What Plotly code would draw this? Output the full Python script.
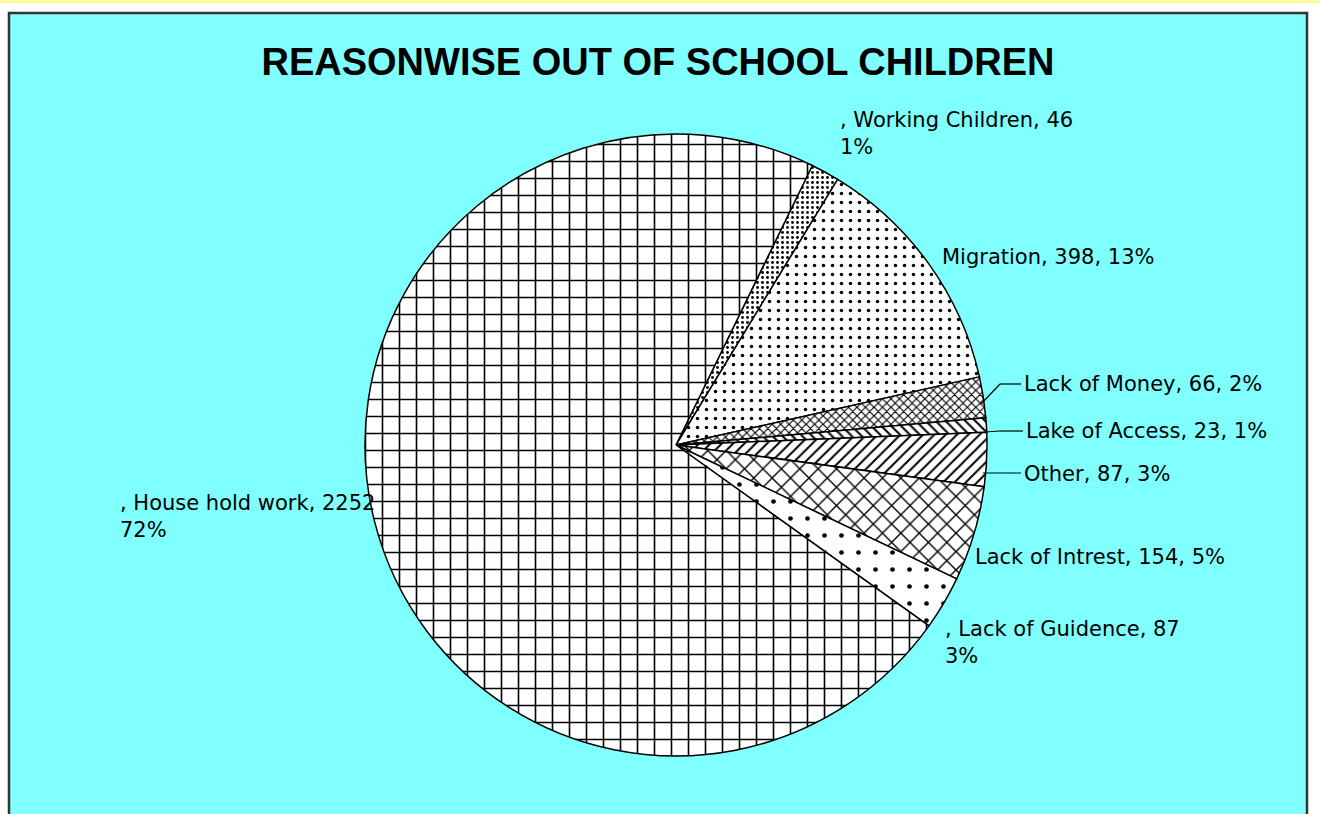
import plotly.graph_objects as go

# ---- data ----
categories = ["Working Children", "Migration", "Lack of Money", "Lake of Access",
              "Other", "Lack of Intrest", "Lack of Guidence", "House hold work"]
values = [46, 398, 66, 23, 87, 154, 87, 2252]
percent_labels = ["1%", "13%", "2%", "1%", "3%", "5%", "3%", "72%"]

# pattern styling per slice
pattern_shapes = [".", ".", "x", "\\", "/", "x", ".", "+"]
pattern_sizes = [5, 9, 6, 7, 8, 13, 17, 17]
pattern_solid = [0.25, 0.12, 0.35, 0.28, 0.25, 0.2, 0.06, 0.18]

W, H = 1320, 814
CYAN = "#80FFFF"
FONT = "DejaVu Sans"


def px(x, y):
    return x / W, 1 - y / H


# pie geometry (pixels)
cx, cy, r = 676, 445, 311

fig = go.Figure()
fig.add_trace(go.Pie(
    labels=categories,
    values=values,
    sort=False,
    direction="clockwise",
    rotation=26,
    textinfo="none",
    hoverinfo="label+value+percent",
    showlegend=False,
    domain=dict(x=[(cx - r) / W, (cx + r) / W], y=[1 - (cy + r) / H, 1 - (cy - r) / H]),
    marker=dict(
        colors=["white"] * len(values),
        line=dict(color="black", width=1.5),
        pattern=dict(shape=pattern_shapes, size=pattern_sizes, solidity=pattern_solid,
                     fgcolor="black", bgcolor="white", fgopacity=1, fillmode="overlay"),
    ),
))

# label texts built from data
def lab(i, style):
    name, v, p = categories[i], values[i], percent_labels[i]
    if style == "split":
        return f", {name}, {v}<br>{p}"
    return f"{name}, {v}, {p}"

label_specs = [
    # index, style, x, y(px), yanchor
    (0, "split", 838, 106, "top"),
    (1, "one", 940, 257, "middle"),
    (2, "one", 1022, 384, "middle"),
    (3, "one", 1024, 431, "middle"),
    (4, "one", 1022, 474, "middle"),
    (5, "one", 973, 557, "middle"),
    (6, "split", 943, 615, "top"),
    (7, "split", 118, 489, "top"),
]

annotations = []
for i, style, x, y, ya in label_specs:
    ax_, ay_ = px(x, y)
    annotations.append(dict(
        x=ax_, y=ay_, xref="paper", yref="paper", xanchor="left", yanchor=ya,
        text=lab(i, style), showarrow=False, align="left",
        font=dict(family=FONT, size=21, color="black"),
    ))

shapes = [
    # yellow strip at top
    dict(type="rect", xref="paper", yref="paper", x0=0, x1=1, y0=1 - 3 / H, y1=1,
         fillcolor="#FFFF99", line=dict(width=0), layer="below"),
    # cyan chart box
    dict(type="rect", xref="paper", yref="paper", x0=9 / W, x1=1307 / W, y0=-0.02, y1=1 - 13 / H,
         fillcolor=CYAN, line=dict(color="#333333", width=2.5), layer="below"),
]

# leader lines
def seg(p1, p2):
    x0, y0 = px(*p1)
    x1, y1 = px(*p2)
    return dict(type="line", xref="paper", yref="paper", x0=x0, y0=y0, x1=x1, y1=y1,
                line=dict(color="black", width=1.2))

shapes += [
    seg((981, 404), (1000, 384)), seg((1000, 384), (1021, 384)),
    seg((985, 432), (1000, 431)), seg((1000, 431), (1023, 431)),
    seg((983, 473), (1021, 473)),
]

fig.update_layout(
    width=W, height=H,
    margin=dict(l=0, r=0, t=0, b=0),
    paper_bgcolor="white",
    plot_bgcolor="white",
    title=dict(text="<b>REASONWISE OUT OF SCHOOL CHILDREN</b>", x=658 / W, xanchor="center",
               y=1 - 62 / H, yanchor="middle", yref="container",
               font=dict(family="Liberation Sans", size=38, color="black")),
    annotations=annotations,
    shapes=shapes,
)

fig.write_html("out.html", config={"displayModeBar": False},
               post_script="document.body.style.margin='0';document.body.style.overflow='hidden';")
